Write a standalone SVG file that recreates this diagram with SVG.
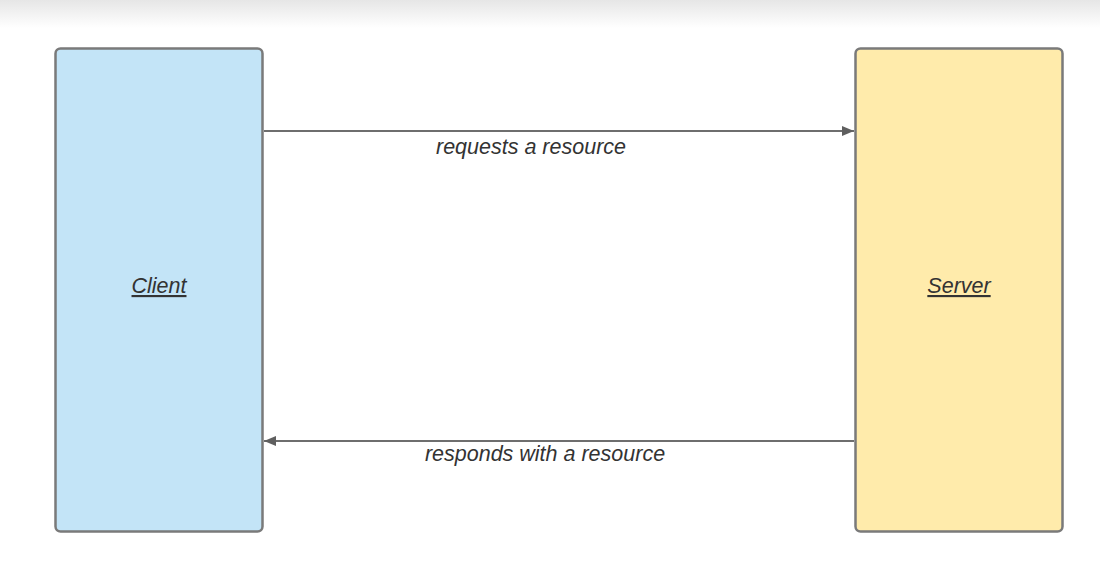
<svg xmlns="http://www.w3.org/2000/svg" width="1100" height="562" viewBox="0 0 1100 562">
<defs>
<linearGradient id="topband" x1="0" y1="0" x2="0" y2="1">
<stop offset="0" stop-color="#e6e6e6"/>
<stop offset="1" stop-color="#ffffff"/>
</linearGradient>
<marker id="arrow" viewBox="0 0 12 10" refX="12" refY="5" markerWidth="12" markerHeight="10" markerUnits="userSpaceOnUse" orient="auto">
<path d="M0,0 L12,5 L0,10 Z" fill="#5f5f5f"/>
</marker>
<style>
.node { stroke: #7a7a7a; stroke-width: 2.5; }
.label { font-family: "Liberation Sans", Arial, sans-serif; font-style: italic; font-size: 21.5px; fill: #333333; }
.title { text-decoration: underline; }
.conn { stroke: #6e6e6e; stroke-width: 2; fill: none; }
</style>
</defs>
<rect x="0" y="0" width="1100" height="562" fill="#ffffff"/>
<rect x="0" y="0" width="1100" height="28" fill="url(#topband)"/>
<g id="client">
<rect class="node" x="55.5" y="48.5" width="207" height="483" rx="5" fill="#c3e4f7"/>
<text class="label title" x="159" y="293" text-anchor="middle">Client</text>
</g>
<g id="server">
<rect class="node" x="855.5" y="48.5" width="207" height="483" rx="5" fill="#ffebab"/>
<text class="label title" x="959" y="293" text-anchor="middle">Server</text>
</g>
<g id="connectors">
<line class="conn" x1="264" y1="131" x2="854" y2="131" marker-end="url(#arrow)"/>
<text class="label" x="531" y="154" text-anchor="middle">requests a resource</text>
<line class="conn" x1="854" y1="441" x2="264" y2="441" marker-end="url(#arrow)"/>
<text class="label" x="545" y="461" text-anchor="middle">responds with a resource</text>
</g>
</svg>
